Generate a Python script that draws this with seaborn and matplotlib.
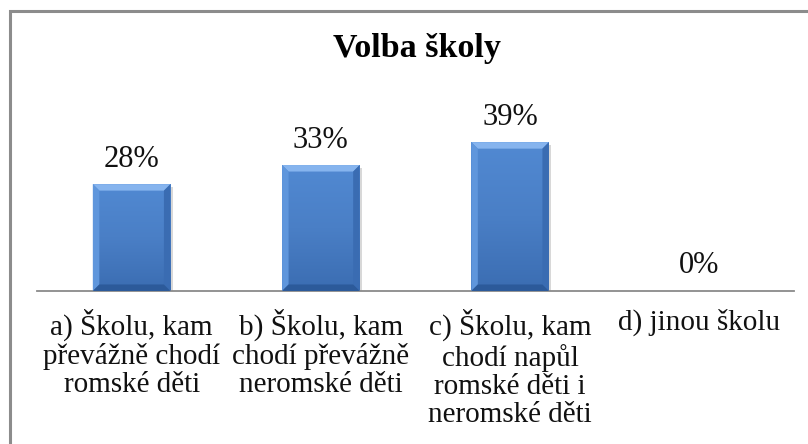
import numpy as np
import pandas as pd
import matplotlib
matplotlib.use("Agg")
import matplotlib.pyplot as plt
import seaborn as sns
from matplotlib.patches import Polygon, Rectangle
from matplotlib.colors import LinearSegmentedColormap

categories = [
    "a) Školu, kam\npřevážně chodí\nromské děti",
    "b) Školu, kam\nchodí převážně\nneromské děti",
    "c) Školu, kam\nchodí napůl\nromské děti i\nneromské děti",
    "d) jinou školu",
]
values = [28, 33, 39, 0]
title = "Volba školy"

sns.set_theme(style="white")
plt.rcParams["font.family"] = ["Liberation Serif", "DejaVu Serif"]

df = pd.DataFrame({"cat": categories, "val": values})

fig = plt.figure(figsize=(8.08, 4.44), dpi=100)
ax = fig.add_axes([37 / 808, 1 - 291 / 444, (794 - 37) / 808, 171 / 444])
sns.barplot(data=df, x="cat", y="val", ax=ax, width=0.41, color="#4a7fc6",
            edgecolor="none", saturation=1)
ax.set_ylim(0, 44.8)
ax.set_xlim(-0.5, 3.5)

for s in ["top", "right", "left"]:
    ax.spines[s].set_visible(False)
ax.spines["bottom"].set_color("#8a8a8a")
ax.spines["bottom"].set_linewidth(1.3)
ax.set_yticks([])
ax.set_xlabel("")
ax.set_ylabel("")
ax.tick_params(axis="x", length=0, pad=13)
ax.set_xticks(range(len(categories)))
ax.set_xticklabels(categories, fontsize=21, linespacing=1.1, color="#111111")

fig.canvas.draw()
px_x = ax.transData.transform((1, 0))[0] - ax.transData.transform((0, 0))[0]
px_y = ax.transData.transform((0, 1))[1] - ax.transData.transform((0, 0))[1]
bev = 6.5
bx = bev / px_x
by = bev / px_y

cmap = LinearSegmentedColormap.from_list("b", ["#3b6db2", "#4a7fc6", "#5189d2"])
grad = np.linspace(0, 1, 100).reshape(-1, 1)

for p, v in zip(list(ax.patches), values):
    h = p.get_height()
    if h <= 0:
        continue
    x0 = p.get_x()
    w = p.get_width()
    y0 = p.get_y()
    ax.add_patch(Rectangle((x0 + 2.5 / px_x, y0), w, h - 2.5 / px_y,
                           facecolor="#c8c8c8", edgecolor="none", zorder=1.5, alpha=0.7))
    im = ax.imshow(grad, extent=(x0, x0 + w, y0, y0 + h), origin="lower",
                   cmap=cmap, aspect="auto", zorder=2)
    im.set_clip_path(p)
    x1, y1 = x0 + w, y0 + h
    ax.add_patch(Polygon([(x0, y1), (x1, y1), (x1 - bx, y1 - by), (x0 + bx, y1 - by)],
                         closed=True, facecolor="#86b4ee", edgecolor="none", zorder=3))
    ax.add_patch(Polygon([(x0, y0), (x0, y1), (x0 + bx, y1 - by), (x0 + bx, y0 + by)],
                         closed=True, facecolor="#5f96dc", edgecolor="none", zorder=3))
    ax.add_patch(Polygon([(x1, y0), (x1, y1), (x1 - bx, y1 - by), (x1 - bx, y0 + by)],
                         closed=True, facecolor="#3a6cb2", edgecolor="none", zorder=3))
    ax.add_patch(Polygon([(x0, y0), (x1, y0), (x1 - bx, y0 + by), (x0 + bx, y0 + by)],
                         closed=True, facecolor="#2c5a9a", edgecolor="none", zorder=3))
    p.set_visible(False)

for i, v in enumerate(values):
    off = 12 if v > 0 else 13
    ax.annotate(f"{v}%", xy=(i, v), xytext=(0, off), textcoords="offset points",
                ha="center", va="baseline", fontsize=22, color="#111111")

fig.text(417 / 808, 1 - 57 / 444, title, ha="center", va="baseline",
         fontsize=24.5, fontweight="bold", color="#000000")

fig.patches.append(Rectangle((10 / 808, -0.1), 1.2, 1 - 11 / 444 + 0.1,
                             transform=fig.transFigure, fill=False,
                             edgecolor="#8c8c8c", linewidth=2.2, zorder=0))

fig.savefig("out.png", dpi=100, facecolor="white")
